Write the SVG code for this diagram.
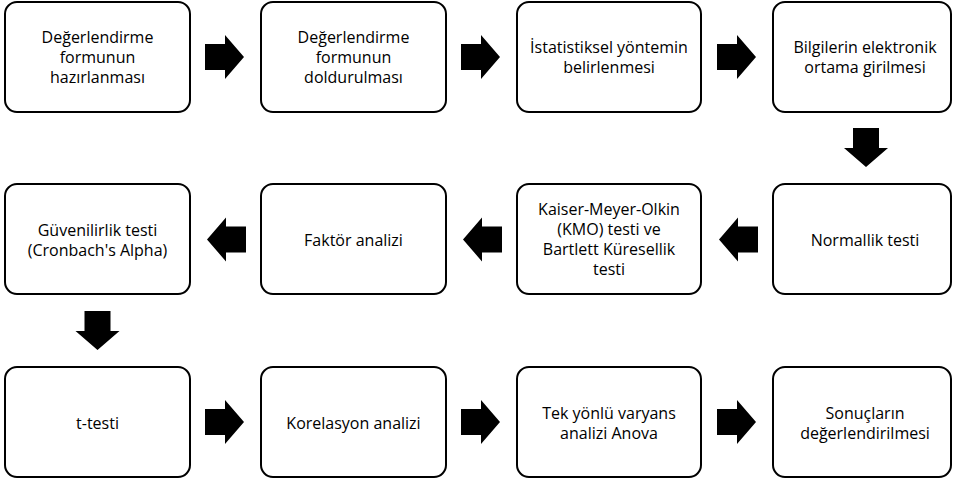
<svg xmlns="http://www.w3.org/2000/svg" width="953" height="482" viewBox="0 0 953 482">
<defs>
<style>
.box{fill:#fff;stroke:#000;stroke-width:2}
.t{font-family:"Open Sans","Liberation Sans",sans-serif;font-size:16px;fill:#000;text-anchor:middle}
.arr{fill:#000}
</style>
<path id="ar" class="arr" d="M0,-13 H20 V-22 L39,0 L20,22 V13 H0 Z"/>
</defs>
<rect width="953" height="482" fill="#fff"/>
<g id="connectors">
<use href="#ar" transform="translate(205,57)"/>
<use href="#ar" transform="translate(461,57)"/>
<use href="#ar" transform="translate(717,57)"/>
<use href="#ar" transform="translate(866,128) rotate(90)"/>
<use href="#ar" transform="translate(758,239.5) scale(-1,1)"/>
<use href="#ar" transform="translate(502,239.5) scale(-1,1)"/>
<use href="#ar" transform="translate(246,239.5) scale(-1,1)"/>
<use href="#ar" transform="translate(97.5,311) rotate(90)"/>
<use href="#ar" transform="translate(205,422)"/>
<use href="#ar" transform="translate(461,422)"/>
<use href="#ar" transform="translate(717,422)"/>
</g>
<g id="n1"><rect class="box" x="5" y="2" width="185" height="110" rx="12"/>
<text class="t" x="97.5" y="43">Değerlendirme</text><text class="t" x="97.5" y="63">formunun</text><text class="t" x="97.5" y="83">hazırlanması</text></g>
<g id="n2"><rect class="box" x="261" y="2" width="185" height="110" rx="12"/>
<text class="t" x="353.5" y="43">Değerlendirme</text><text class="t" x="353.5" y="63">formunun</text><text class="t" x="353.5" y="83">doldurulması</text></g>
<g id="n3"><rect class="box" x="517" y="2" width="184" height="110" rx="12"/>
<text class="t" x="609" y="53">İstatistiksel yöntemin</text><text class="t" x="609" y="73">belirlenmesi</text></g>
<g id="n4"><rect class="box" x="773" y="2" width="178" height="110" rx="12"/>
<text class="t" x="865" y="53">Bilgilerin elektronik</text><text class="t" x="865" y="73">ortama girilmesi</text></g>
<g id="n5"><rect class="box" x="773" y="184" width="178" height="110" rx="12"/>
<text class="t" x="865" y="246">Normallik testi</text></g>
<g id="n6"><rect class="box" x="517" y="184" width="184" height="110" rx="12"/>
<text class="t" x="609" y="215">Kaiser-Meyer-Olkin</text><text class="t" x="609" y="235">(KMO) testi ve</text><text class="t" x="609" y="255">Bartlett Küresellik</text><text class="t" x="609" y="275">testi</text></g>
<g id="n7"><rect class="box" x="261" y="184" width="185" height="110" rx="12"/>
<text class="t" x="353.5" y="246">Faktör analizi</text></g>
<g id="n8"><rect class="box" x="5" y="184" width="185" height="110" rx="12"/>
<text class="t" x="97.5" y="236">Güvenilirlik testi</text><text class="t" x="97.5" y="256">(Cronbach's Alpha)</text></g>
<g id="n9"><rect class="box" x="5" y="367" width="185" height="110" rx="12"/>
<text class="t" x="97.5" y="429">t-testi</text></g>
<g id="n10"><rect class="box" x="261" y="367" width="185" height="110" rx="12"/>
<text class="t" x="353.5" y="429">Korelasyon analizi</text></g>
<g id="n11"><rect class="box" x="517" y="367" width="184" height="110" rx="12"/>
<text class="t" x="609" y="419">Tek yönlü varyans</text><text class="t" x="609" y="439">analizi Anova</text></g>
<g id="n12"><rect class="box" x="773" y="367" width="178" height="110" rx="12"/>
<text class="t" x="865" y="419">Sonuçların</text><text class="t" x="865" y="439">değerlendirilmesi</text></g>
</svg>
